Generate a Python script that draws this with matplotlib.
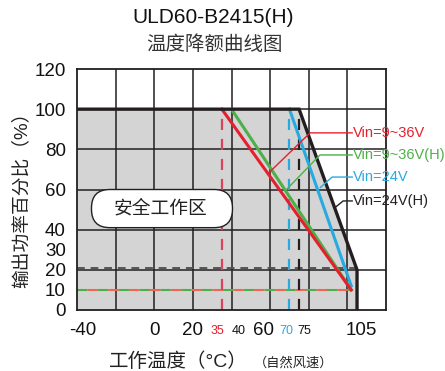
import numpy as np
import matplotlib
matplotlib.use('Agg')
from matplotlib import pyplot as plt
from matplotlib.patches import FancyBboxPatch

plt.rcParams['font.family'] = ['Liberation Sans', 'Noto Sans CJK SC', 'DejaVu Sans']

# derating curves (temperature in C, output load in %)
black_t = [-40, 75, 105, 105]
black_p = [100, 100, 20, 0]
red_t = [35, 102]
red_p = [100, 10]
green_t = [40, 102]
green_p = [100, 10]
cyan_t = [70, 102]
cyan_p = [100, 12]

x_ticks = [-40, 0, 20, 35, 40, 60, 70, 75, 105]
y_ticks = [0, 10, 20, 30, 40, 60, 80, 100, 120]

legend_names = ['Vin=9~36V', 'Vin=9~36V(H)', 'Vin=24V', 'Vin=24V(H)']
legend_y = [88.2, 77.2, 66.2, 54.3]

RED = '#e5202e'
GREEN = '#4daf4a'
CYAN = '#27aae1'
BLACK = '#231f20'

fig = plt.figure(figsize=(4.45, 3.71), dpi=100)
ax = fig.add_axes([77 / 445, 1 - 310 / 371, 309 / 445, 241 / 371])
ax.set_xlim(-40, 120)
ax.set_ylim(0, 120)

# safe area
ax.fill_between(black_t, black_p, 0, color='#d4d4d4', lw=0, zorder=0)

# grid
ax.set_xticks(np.arange(-40, 121, 20))
ax.set_xticklabels([])
ax.set_yticks(y_ticks)
ax.set_yticklabels([str(v) for v in y_ticks], fontsize=13.5, color='#111111')
ax.tick_params(length=0, pad=8)
for v in np.arange(-20, 120, 20):
    ax.axvline(v, color=BLACK, lw=1.1, zorder=1)
for v in np.arange(20, 120, 20):
    ax.axhline(v, color=BLACK, lw=1.1, zorder=1)
for s in ax.spines.values():
    s.set_linewidth(1.3)
    s.set_color(BLACK)

# dashed guide lines
ax.plot([-40, 105], [21, 21], color='#555555', lw=1.4, ls=(0, (4, 3)), zorder=2)
ax.plot([-40, 102], [10, 10], color=GREEN, lw=1.5, ls=(0, (5, 5)), zorder=2)
ax.plot([-40, 102], [10, 10], color='#ee6655', lw=1.5, ls=(5, (5, 5)), zorder=2)
ax.plot([35, 35], [0, 100], color='#d9435a', lw=1.6, ls=(0, (5, 4)), zorder=2)
ax.plot([70, 70], [0, 100], color=CYAN, lw=1.6, ls=(0, (5, 4)), zorder=2)
ax.plot([75, 75], [0, 100], color=BLACK, lw=1.6, ls=(0, (5, 4)), zorder=2)

# curves
ax.plot(cyan_t, cyan_p, color=CYAN, lw=2.2, zorder=3)
ax.plot(green_t, green_p, color=GREEN, lw=2.2, zorder=3)
ax.plot(red_t, red_p, color=RED, lw=2.2, zorder=3)
ax.plot(black_t, black_p, color=BLACK, lw=2.4, zorder=4, solid_joinstyle='miter')

# leader lines + labels
leaders = [
    ([102.5, 80.7, 59], [88.2, 88.2, 68], RED),
    ([102.5, 85.8, 68], [77.2, 77.2, 59.5], GREEN),
    ([102.5, 92.1, 86], [66.2, 66.2, 61], CYAN),
    ([102.5, 97.8, 94], [54.3, 54.3, 51.3], BLACK),
]
for (lx, ly, c), name, yy in zip(leaders, legend_names, legend_y):
    ax.plot(lx, ly, color=c, lw=1.0, zorder=5, clip_on=False)
    ax.text(103, yy, name, color=c, fontsize=10.5, va='center', ha='left', zorder=5)

# safe working area box (pill shape)
box = FancyBboxPatch((-32.5, 41), 73, 19, boxstyle='round,pad=0,rounding_size=9.5',
                     mutation_aspect=0.97, fc='white', ec=BLACK, lw=1.0, zorder=5)
ax.add_patch(box)
ax.text(3.5, 50.3, '安全工作区', fontsize=13.5, ha='center', va='center', color='#222222', zorder=6)

# x tick labels (hand placed, schematic axis)
tick_shift = {-40: 4, 0: 0, 20: 0, 35: -3, 40: 5, 60: -5, 70: -2, 75: 4, 105: 3}
tick_color = {35: RED, 70: CYAN}
for t in x_ticks:
    small = t in (35, 40, 70, 75)
    ax.annotate(str(t), xy=(t, 0), xycoords=('data', 'axes fraction'),
                xytext=(tick_shift[t], -15), textcoords='offset points',
                ha='center', va='center', fontsize=9 if small else 13.5,
                color=tick_color.get(t, '#111111'))

fig.text(0.479, 0.952, 'ULD60-B2415(H)', fontsize=15, ha='center', va='center', color='#111111')
fig.text(0.483, 0.879, '温度降额曲线图', fontsize=14, ha='center', va='center', color='#333333')
fig.text(0.049, 0.474, '输出功率百分比（%）', fontsize=13.5, rotation=90, ha='center', va='center',
         color='#222222')
fig.text(0.40, 0.026, '工作温度（°C）', fontsize=14, ha='center', va='center', color='#222222')
fig.text(0.66, 0.022, '（自然风速）', fontsize=9.5, ha='center', va='center', color='#222222')

fig.savefig('out.png', dpi=100)
